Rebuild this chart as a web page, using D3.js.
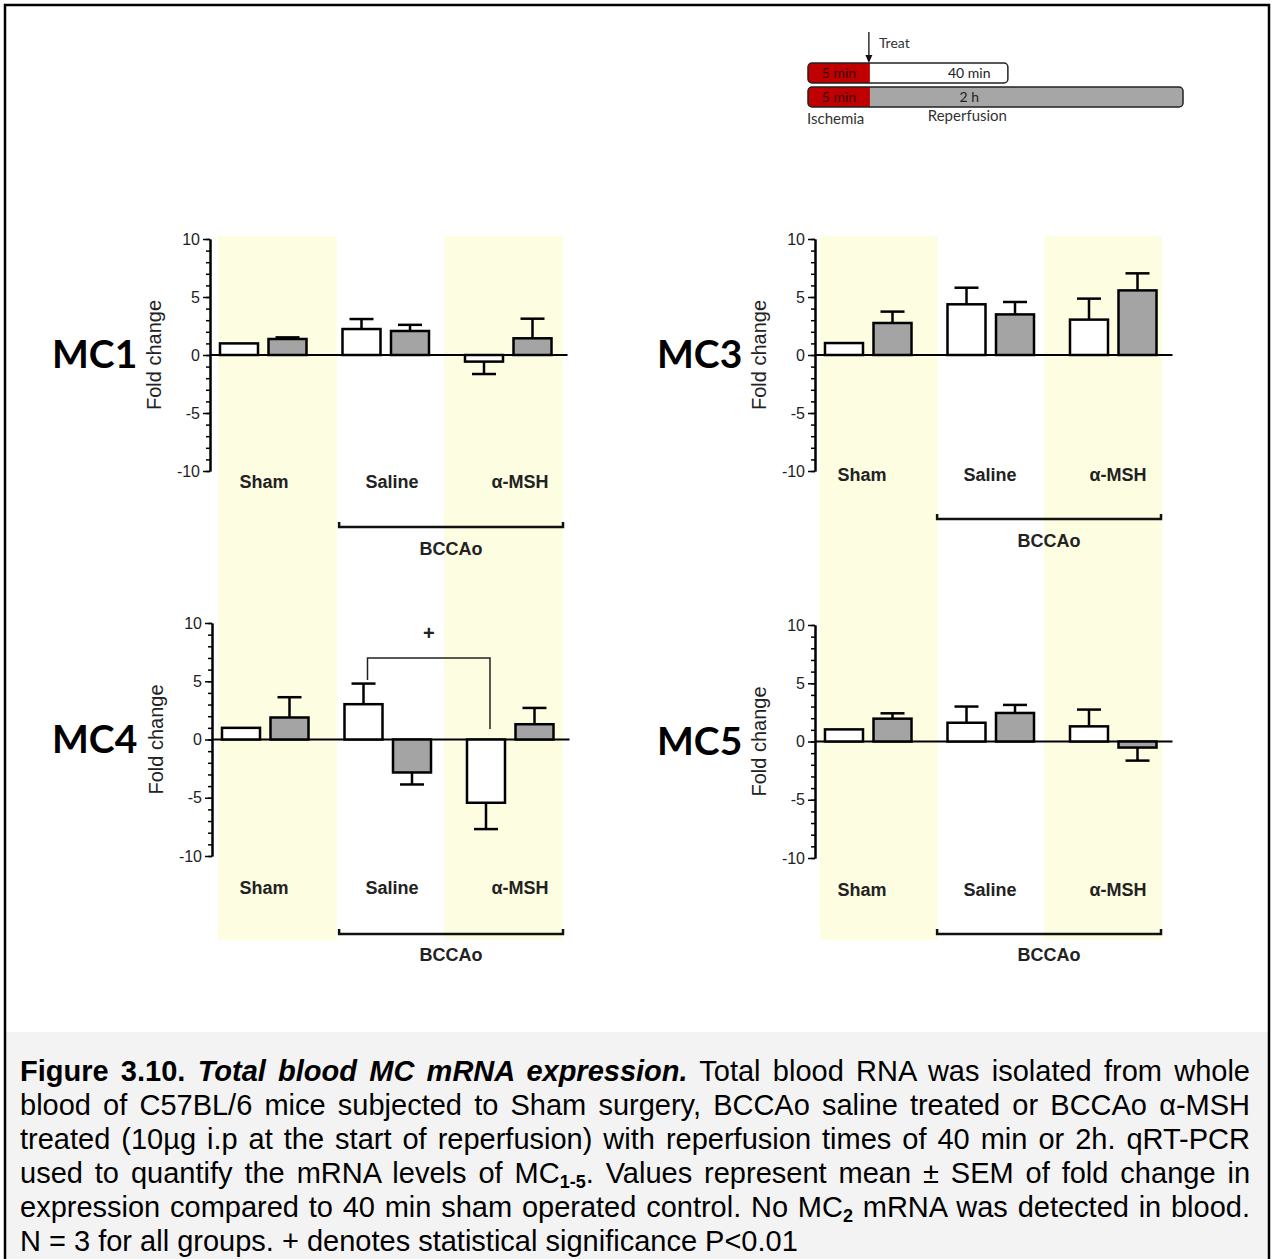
<!DOCTYPE html>
<html>
<head>
<meta charset="utf-8">
<script src="https://cdn.jsdelivr.net/npm/d3@7"></script>
<style>
  body { margin: 0; background: #fff; }
  svg { display: block; }
</style>
</head>
<body>
<svg id="fig" width="1272" height="1259"></svg>
<script>
// ---- data ----
const groups = ["Sham", "Saline", "α-MSH"];
const series = ["40 min", "2 h"];
const yTicks = [-10, -5, 0, 5, 10];
const yDomain = [-10, 10];

// mean / SEM per group, 40 min and 2 h reperfusion
const mc1Mean40 = [1.0, 2.24, -0.57], mc1Err40 = [0, 0.86, 1.07];
const mc1Mean2h = [1.38, 2.07, 1.44], mc1Err2h = [0.14, 0.53, 1.69];
const mc3Mean40 = [1.03, 4.37, 3.05], mc3Err40 = [0, 1.43, 1.81];
const mc3Mean2h = [2.76, 3.5, 5.57], mc3Err2h = [0.98, 1.07, 1.47];
const mc4Mean40 = [1.0, 3.03, -5.43], mc4Err40 = [0, 1.77, 2.26];
const mc4Mean2h = [1.89, -2.83, 1.31], mc4Err2h = [1.74, 1.03, 1.40];
const mc5Mean40 = [1.04, 1.61, 1.3], mc5Err40 = [0, 1.39, 1.44];
const mc5Mean2h = [1.96, 2.45, -0.52], mc5Err2h = [0.46, 0.69, 1.12];

// significance bracket in MC4 (Saline 40 min vs α-MSH 40 min), in y units
const sigFrom = ["Saline", "40 min"], sigTo = ["α-MSH", "40 min"];
const sigLevels = [5.1, 7.0, 0.9]; // left end, top, right end
const sigLabel = "+", sigLabelAt = 9.1;

// timeline schematic
const tlRows = ["40 min", "2 h"];
const tlRowEnd = [53.3, 100];
const tlIschemiaEnd = 16.5;
const tlIschemiaLabel = "5 min";

const captionLines = [
  [["Figure 3.10. ", "b"], ["Total blood MC mRNA expression.", "bi"], [" Total blood RNA was isolated from whole", ""]],
  [["blood of C57BL/6 mice subjected to Sham surgery, BCCAo saline treated or BCCAo α-MSH", ""]],
  [["treated (10µg i.p at the start of reperfusion) with reperfusion times of 40 min or 2h. qRT-PCR", ""]],
  [["used to quantify the mRNA levels of MC", ""], ["1-5", "sub"], [". Values represent mean ± SEM of fold change in", ""]],
  [["expression compared to 40 min sham operated control. No MC", ""], ["2", "sub"], [" mRNA was detected in blood.", ""]],
  [["N = 3 for all groups. + denotes statistical significance P<0.01", ""]]
];

// ---- layout ----
const svg = d3.select("#fig");
const ARIAL = "'Liberation Sans', Arial, sans-serif";
const CALIBRI = "Lato, 'Open Sans', sans-serif";

// caption background + frame
svg.append("rect").attr("x", 6).attr("y", 1032).attr("width", 1262).attr("height", 240).attr("fill", "#f3f3f3");
svg.append("rect").attr("x", 5).attr("y", 5).attr("width", 1264).attr("height", 1270)
  .attr("fill", "none").attr("stroke", "#000").attr("stroke-width", 2.5);

const panels = [
  { name: "MC1", m40: mc1Mean40, e40: mc1Err40, m2h: mc1Mean2h, e2h: mc1Err2h, axisX: 210, dx: 3, yTop: 239, yBot: 471, catY: 488, brY: 527, bccY: 555, nameX: 52 },
  { name: "MC3", m40: mc3Mean40, e40: mc3Err40, m2h: mc3Mean2h, e2h: mc3Err2h, axisX: 815, dx: -4, yTop: 239, yBot: 471, catY: 481, brY: 519, bccY: 547, nameX: 657 },
  { name: "MC4", m40: mc4Mean40, e40: mc4Err40, m2h: mc4Mean2h, e2h: mc4Err2h, axisX: 212, dx: 1, yTop: 623, yBot: 856, catY: 894, brY: 934, bccY: 961, nameX: 52, sig: true },
  { name: "MC5", m40: mc5Mean40, e40: mc5Err40, m2h: mc5Mean2h, e2h: mc5Err2h, axisX: 815, dx: -4, yTop: 625, yBot: 858, catY: 896, brY: 934, bccY: 961, nameX: 657 }
];

// yellow column shading, spans both panels of a column
const shadeG = svg.append("g");
[[212, 6, 351], [815, 5, 347]].forEach(([ax, a, b]) => {
  const shade = d3.scaleBand().domain(groups).range([ax + a, ax + b]).paddingInner(-0.05);
  shadeG.selectAll(null).data(["Sham", "α-MSH"]).enter().append("rect")
    .attr("x", d => shade(d)).attr("width", shade.bandwidth())
    .attr("y", 236).attr("height", 704)
    .attr("fill", "#fdfde1");
});

function drawPanel(p) {
  const y = d3.scaleLinear().domain(yDomain).range([p.yBot, p.yTop]);
  const x = d3.scaleBand().domain(groups).range([p.axisX - 8, p.axisX + 359.5]);
  const xs = d3.scaleBand().domain(series).range([0, x.bandwidth()])
    .paddingInner(0.2165).paddingOuter(0.371);
  const cx = (grp, s) => x(grp) + xs(s) + xs.bandwidth() / 2;
  const g = svg.append("g");

  // zero line
  g.append("line").attr("x1", p.axisX).attr("x2", x.range()[1] - 2)
    .attr("y1", y(0)).attr("y2", y(0)).attr("stroke", "#000").attr("stroke-width", 2);

  const rows = groups.flatMap((grp, i) => series.map((s, j) => ({
    grp, s,
    v: (j === 0 ? p.m40 : p.m2h)[i],
    e: (j === 0 ? p.e40 : p.e2h)[i]
  })));

  // one-sided error bars (drawn first so the bar outline sits on top)
  const eb = g.selectAll("g.err").data(rows.filter(d => d.e > 0)).enter().append("g")
    .attr("stroke", "#000").attr("stroke-width", 2.5);
  eb.append("line")
    .attr("x1", d => cx(d.grp, d.s)).attr("x2", d => cx(d.grp, d.s))
    .attr("y1", d => y(d.v)).attr("y2", d => y(d.v + Math.sign(d.v) * d.e));
  eb.append("line")
    .attr("x1", d => cx(d.grp, d.s) - 12).attr("x2", d => cx(d.grp, d.s) + 12)
    .attr("y1", d => y(d.v + Math.sign(d.v) * d.e)).attr("y2", d => y(d.v + Math.sign(d.v) * d.e));

  // bars
  g.selectAll("rect.bar").data(rows).enter().append("rect")
    .attr("class", "bar")
    .attr("x", d => x(d.grp) + xs(d.s))
    .attr("width", xs.bandwidth())
    .attr("y", d => y(Math.max(0, d.v)))
    .attr("height", d => Math.abs(y(d.v) - y(0)))
    .attr("fill", d => d.s === "40 min" ? "#fff" : "#a4a4a4")
    .attr("stroke", "#000").attr("stroke-width", 2.5);

  // y axis: minor ticks every unit + labelled major ticks
  const minor = g.append("g").attr("transform", `translate(${p.axisX},0)`)
    .call(d3.axisLeft(y).tickValues(d3.range(-10, 11)).tickSize(4).tickSizeOuter(0).tickFormat(""));
  minor.select(".domain").attr("stroke-width", 2);
  minor.selectAll(".tick line").attr("stroke-width", 1.5);
  const major = g.append("g").attr("transform", `translate(${p.axisX},0)`)
    .call(d3.axisLeft(y).tickValues(yTicks).tickSize(7).tickSizeOuter(0).tickPadding(3)
      .tickFormat(d => String(d)));
  major.select(".domain").attr("stroke-width", 2);
  major.selectAll(".tick line").attr("stroke-width", 1.5);
  major.attr("font-family", ARIAL).attr("font-size", 16);
  major.selectAll(".tick text").attr("fill", "#222");

  // category labels
  const lab = d3.scaleBand().domain(groups).range([p.axisX - 13 + p.dx, p.axisX + 371 + p.dx]);
  g.selectAll("text.cat").data(groups).enter().append("text")
    .attr("x", d => lab(d) + lab.bandwidth() / 2).attr("y", p.catY)
    .attr("text-anchor", "middle").attr("font-family", ARIAL)
    .attr("font-weight", "bold").attr("font-size", 18).attr("fill", "#222")
    .text(d => d);

  // BCCAo bracket
  const shade = d3.scaleBand().domain(groups).range([p.axisX + 6 + p.dx, p.axisX + 351 + p.dx]).paddingInner(-0.05);
  const bx1 = shade("Saline") + 7, bx2 = shade("α-MSH") + shade.bandwidth() - 1;
  g.append("path")
    .attr("d", `M${bx1},${p.brY - 5}V${p.brY}H${bx2}V${p.brY - 5}`)
    .attr("fill", "none").attr("stroke", "#111").attr("stroke-width", 2.5);
  g.append("text").attr("x", (bx1 + bx2) / 2).attr("y", p.bccY)
    .attr("text-anchor", "middle").attr("font-family", ARIAL)
    .attr("font-weight", "bold").attr("font-size", 18).attr("fill", "#222")
    .text("BCCAo");

  // panel name + y label
  g.append("text").attr("x", p.nameX).attr("y", y(0) + 13)
    .attr("font-family", CALIBRI).attr("font-weight", "bold").attr("font-size", 39)
    .attr("fill", "#000").text(p.name);
  g.append("text")
    .attr("transform", `translate(${p.axisX - 49},${y(0)}) rotate(-90)`)
    .attr("text-anchor", "middle").attr("font-family", ARIAL).attr("font-size", 20)
    .attr("fill", "#222").text("Fold change");

  if (p.sig) {
    const xa = cx(sigFrom[0], sigFrom[1]) + 4, xb = cx(sigTo[0], sigTo[1]) + 4;
    g.append("path")
      .attr("d", `M${xa},${y(sigLevels[0])}V${y(sigLevels[1])}H${xb}V${y(sigLevels[2])}`)
      .attr("fill", "none").attr("stroke", "#222").attr("stroke-width", 1.5);
    g.append("text").attr("x", (xa + xb) / 2).attr("y", y(sigLabelAt) + 7)
      .attr("text-anchor", "middle").attr("font-family", ARIAL).attr("font-weight", "bold")
      .attr("font-size", 20).attr("fill", "#222").text(sigLabel);
  }
}
panels.forEach(drawPanel);

// ---- timeline schematic ----
const tlX = d3.scaleLinear().domain([0, 100]).range([808, 1183]);
const tlY = d3.scaleBand().domain(tlRows).range([63, 107]).paddingInner(1 / 6);
const tl = svg.append("g");
const r = 4, h = tlY.bandwidth();
tlRows.forEach((row, i) => {
  const y0 = tlY(row), x0 = tlX(0), x1 = tlX(tlRowEnd[i]), xr = tlX(tlIschemiaEnd);
  tl.append("rect").attr("x", x0).attr("y", y0).attr("width", x1 - x0).attr("height", h)
    .attr("rx", r).attr("fill", i === 0 ? "#fff" : "#a6a6a6");
  tl.append("path")
    .attr("d", `M${x0 + r},${y0}H${xr}V${y0 + h}H${x0 + r}A${r},${r} 0 0 1 ${x0},${y0 + h - r}V${y0 + r}A${r},${r} 0 0 1 ${x0 + r},${y0}Z`)
    .attr("fill", "#c00000");
  tl.append("rect").attr("x", x0).attr("y", y0).attr("width", x1 - x0).attr("height", h)
    .attr("rx", r).attr("fill", "none").attr("stroke", "#222").attr("stroke-width", 1.5);
  tl.append("text").attr("x", (x0 + xr) / 2).attr("y", y0 + h / 2 + 5)
    .attr("text-anchor", "middle").attr("font-family", CALIBRI).attr("font-size", 14)
    .attr("fill", "#3a0000").text(tlIschemiaLabel);
  tl.append("text").attr("x", tlX(43)).attr("y", y0 + h / 2 + 5)
    .attr("text-anchor", "middle").attr("font-family", CALIBRI).attr("font-size", 14)
    .attr("fill", "#222").text(row);
});
const ax = tlX(tlIschemiaEnd) - 1;
tl.append("line").attr("x1", ax).attr("x2", ax).attr("y1", 32).attr("y2", 57)
  .attr("stroke", "#111").attr("stroke-width", 1.3);
tl.append("path").attr("d", `M${ax - 3.5},${55}L${ax + 3.5},${55}L${ax},${63}Z`).attr("fill", "#111");
tl.append("text").attr("x", ax + 10).attr("y", 48).attr("font-family", CALIBRI)
  .attr("font-size", 14).attr("fill", "#333").text("Treat");
tl.append("text").attr("x", tlX(0) - 1).attr("y", 124).attr("font-family", CALIBRI)
  .attr("font-size", 15).attr("fill", "#333").text("Ischemia");
tl.append("text").attr("x", tlX(42.5)).attr("y", 121).attr("text-anchor", "middle")
  .attr("font-family", CALIBRI).attr("font-size", 15).attr("fill", "#333").text("Reperfusion");

// ---- caption ----
const capX = 20, capW = 1230, capY = 1081, capLH = 34;
captionLines.forEach((line, i) => {
  const t = svg.append("text").attr("x", capX).attr("y", capY + i * capLH)
    .attr("font-family", ARIAL).attr("font-size", 29).attr("fill", "#000")
    .style("white-space", "pre");
  let prevSub = false;
  line.forEach(([txt, st]) => {
    const ts = t.append("tspan").text(txt);
    if (st.includes("b")) ts.attr("font-weight", "bold");
    if (st.includes("i")) ts.attr("font-style", "italic");
    if (st === "sub") { ts.attr("font-size", 18).attr("dy", 5); prevSub = true; }
    else if (prevSub) { ts.attr("dy", -5); prevSub = false; }
  });
  if (i < captionLines.length - 1) {
    const len = t.node().getComputedTextLength();
    const spaces = line.map(d => d[0]).join("").split(" ").length - 1;
    t.attr("word-spacing", (capW - len) / spaces);
  }
});
</script>
</body>
</html>
